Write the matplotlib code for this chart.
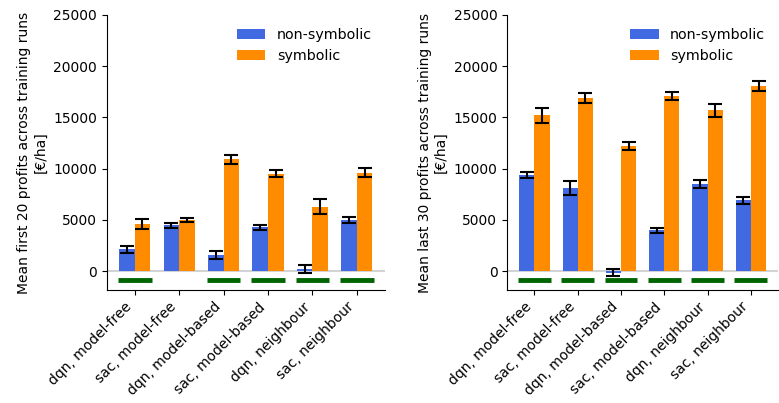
import matplotlib.pyplot as plt
import numpy as np

labels = ['dqn, model-free', 'sac, model-free', 'dqn, model-based',
          'sac, model-based', 'dqn, neighbour', 'sac, neighbour']

first_nonsym = [2150, 4500, 1600, 4300, 250, 5000]
first_nonsym_err = [350, 250, 400, 250, 400, 300]
first_sym = [4600, 5000, 10900, 9500, 6300, 9600]
first_sym_err = [450, 200, 400, 350, 700, 450]
first_signif = [True, False, True, True, True, True]

last_nonsym = [9400, 8100, -150, 4000, 8500, 6900]
last_nonsym_err = [300, 700, 350, 250, 350, 350]
last_sym = [15200, 16900, 12200, 17100, 15700, 18100]
last_sym_err = [700, 450, 400, 400, 650, 500]
last_signif = [True, True, True, True, True, True]

fig = plt.figure(figsize=(7.79, 4.03), dpi=100)
ax1 = fig.add_axes([0.137, 0.280, 0.357, 0.683])
ax2 = fig.add_axes([0.651, 0.280, 0.348, 0.683])


def panel(ax, nonsym, nonsym_err, sym, sym_err, signif, ylabel):
    x = np.arange(len(labels))
    w = 0.35
    ax.axhline(0, color='lightgray', lw=1.5, zorder=0)
    ax.bar(x - w / 2, nonsym, w, color='royalblue', label='non-symbolic')
    ax.bar(x + w / 2, sym, w, color='darkorange', label='symbolic')
    ax.errorbar(x - w / 2, nonsym, yerr=nonsym_err, fmt='none', ecolor='black',
                capsize=5, elinewidth=1.5, capthick=1.5)
    ax.errorbar(x + w / 2, sym, yerr=sym_err, fmt='none', ecolor='black',
                capsize=5, elinewidth=1.5, capthick=1.5)
    for i, s in enumerate(signif):
        if s:
            ax.hlines(-900, i - 0.38, i + 0.38, color='darkgreen', lw=3.5)
    ax.set_ylim(-1850, 25000)
    ax.set_xlim(-0.63, 5.63)
    ax.set_xticks(x)
    ax.set_xticklabels(labels, rotation=45, ha='right', fontsize=10)
    ax.tick_params(axis='y', labelsize=10)
    ax.set_yticks([0, 5000, 10000, 15000, 20000, 25000])
    ax.spines['top'].set_visible(False)
    ax.spines['right'].set_visible(False)
    ax.set_ylabel(ylabel, fontsize=10)
    ax.legend(loc='upper right', frameon=False, fontsize=10.3)


panel(ax1, first_nonsym, first_nonsym_err, first_sym, first_sym_err, first_signif,
      'Mean first 20 profits across training runs\n[€/ha]')
panel(ax2, last_nonsym, last_nonsym_err, last_sym, last_sym_err, last_signif,
      'Mean last 30 profits across training runs\n[€/ha]')

plt.savefig('out.png', dpi=100)
